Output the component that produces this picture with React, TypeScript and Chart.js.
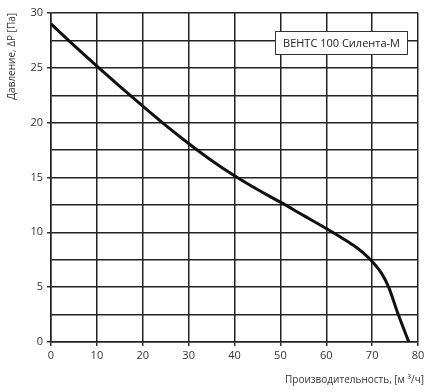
import React, { useEffect, useRef } from "react";
import { Chart, registerables } from "chart.js";

Chart.register(...registerables);

const flowX = [0, 5, 10, 15, 20, 25, 30, 35, 40, 45, 50, 55, 60, 63, 66, 68, 70, 72, 73.6, 75.7, 78];
const pressureY = [29.0, 27.05, 25.15, 23.3, 21.5, 19.75, 18.1, 16.55, 15.15, 13.9, 12.75, 11.55, 10.35, 9.6, 8.8, 8.15, 7.35, 6.3, 5.0, 2.5, 0];
const seriesName = "ВЕНТС 100 Силента-М";
const xTitle = "Производительность, [м ³/ч]";
const yTitle = "Давление, ΔP [Па]";

const FONT = "'Open Sans', 'DejaVu Sans', sans-serif";

const legendBoxPlugin = {
  id: "legendBox",
  afterDraw(chart: any) {
    const { ctx, chartArea } = chart;
    ctx.save();
    ctx.font = `11px ${FONT}`;
    const tw = ctx.measureText(seriesName).width;
    const w = tw + 16;
    const h = 24;
    const right = chartArea.right - 10;
    const left = right - w;
    const top = chartArea.top + 18;
    ctx.fillStyle = "#ffffff";
    ctx.fillRect(left, top, w, h);
    ctx.strokeStyle = "#333";
    ctx.lineWidth = 1;
    ctx.strokeRect(left + 0.5, top + 0.5, w - 1, h - 1);
    ctx.fillStyle = "#222";
    ctx.textBaseline = "middle";
    ctx.textAlign = "left";
    ctx.fillText(seriesName, left + 8, top + h / 2 + 0.5);
    // x-axis title, right aligned slightly past the plot edge
    ctx.font = `10px ${FONT}`;
    ctx.fillStyle = "#333";
    ctx.textAlign = "right";
    ctx.textBaseline = "middle";
    ctx.fillText(xTitle, chartArea.right + 6, chartArea.bottom + 38);
    ctx.restore();
  },
};

export default function App() {
  const ref = useRef<HTMLCanvasElement | null>(null);
  useEffect(() => {
    document.body.style.margin = "0";
    if (!ref.current) return;
    const chart = new Chart(ref.current, {
      type: "line",
      data: {
        datasets: [
          {
            label: seriesName,
            data: flowX.map((x, i) => ({ x, y: pressureY[i] })),
            borderColor: "#111",
            borderWidth: 3,
            pointRadius: 0,
            cubicInterpolationMode: "monotone",
            fill: false,
          },
        ],
      },
      options: {
        animation: false,
        responsive: false,
        layout: { padding: { top: 13, right: 12, left: 0, bottom: 0 } },
        plugins: { legend: { display: false }, tooltip: { enabled: false } },
        scales: {
          x: {
            type: "linear",
            min: 0,
            max: 80,
            afterFit: (s: any) => {
              s.height = 50;
            },
            ticks: {
              stepSize: 10,
              color: "#333",
              font: { family: FONT, size: 11 },
              padding: 3,
              maxRotation: 0,
            },
            grid: { color: "#222", lineWidth: 1.5, tickLength: 4, tickColor: "#333" },
            border: { color: "#222", width: 1.5 },
            title: { display: false, text: xTitle },
          },
          y: {
            min: 0,
            max: 30,
            afterFit: (s: any) => {
              s.width = 51;
            },
            ticks: {
              stepSize: 2.5,
              color: "#333",
              font: { family: FONT, size: 11 },
              padding: 4,
              callback: (v: any) => (Number(v) % 5 === 0 ? String(v) : ""),
            },
            grid: {
              color: "#222",
              lineWidth: 1.5,
              tickLength: 4,
              tickColor: (c: any) => (c.tick && c.tick.value % 5 === 0 ? "#333" : "rgba(0,0,0,0)"),
            },
            border: { color: "#222", width: 1.5 },
            title: {
              display: true,
              text: yTitle,
              align: "end",
              color: "#333",
              font: { family: FONT, size: 10 },
              padding: { top: 6, bottom: 0 },
            },
          },
        },
      },
      plugins: [legendBoxPlugin],
    } as any);
    return () => chart.destroy();
  }, []);
  return (
    <div style={{ width: 430, height: 392 }}>
      <canvas ref={ref} width={430} height={392} style={{ display: "block" }} />
    </div>
  );
}
